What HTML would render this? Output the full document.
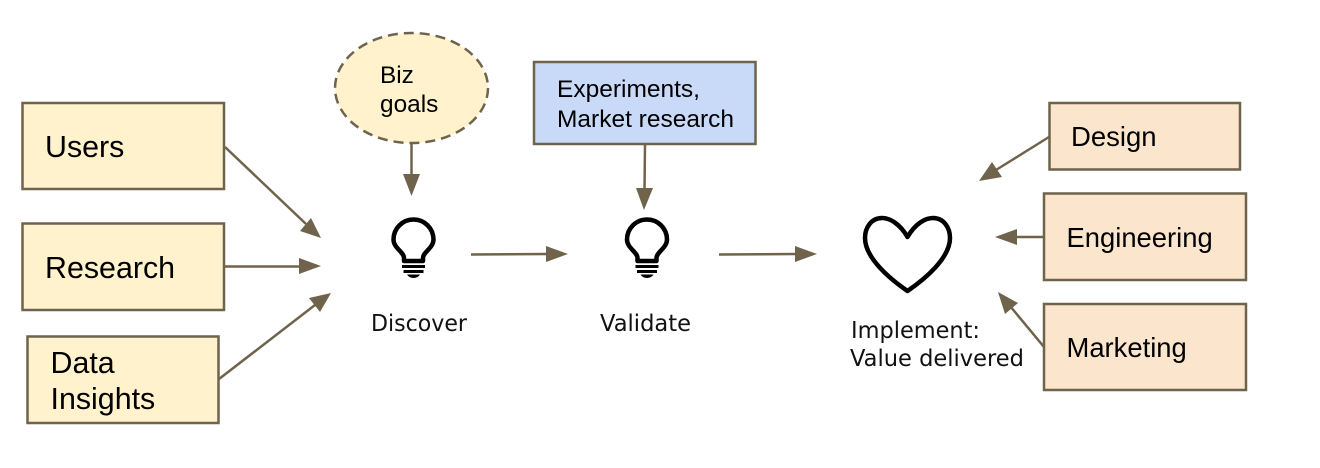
<!DOCTYPE html>
<html><head><meta charset="utf-8"><style>html,body{margin:0;padding:0;background:#fff}svg{display:block}
.a{font-family:"Liberation Sans",sans-serif;fill:#000}
.o{font-family:"DejaVu Sans",sans-serif;fill:#111;font-size:23px}
.r{stroke:#6f634c;stroke-width:2.5}
.l{stroke:#6f634c;stroke-width:2.5;fill:none}
.h{fill:#6f634c}
.i{fill:none;stroke:#000;stroke-width:4.5;stroke-linejoin:round}
</style></head><body>
<svg width="1320" height="468" viewBox="0 0 1320 468" xmlns="http://www.w3.org/2000/svg">
<rect class="r" x="22.5" y="103" width="201.5" height="86" fill="#fff2cc"/>
<rect class="r" x="22.5" y="223.5" width="201.5" height="86.5" fill="#fff2cc"/>
<rect class="r" x="27.5" y="336.5" width="191" height="86.5" fill="#fff2cc"/>
<text class="a" x="45" y="157" font-size="30.4">Users</text>
<text class="a" x="45" y="278" font-size="30.4">Research</text>
<text class="a" x="50.5" y="373" font-size="30.4">Data</text>
<text class="a" x="50.5" y="409" font-size="30.4">Insights</text>
<line class="l" x1="225" y1="147" x2="306" y2="224"/><polygon class="h" points="321,238 300,231 311,218"/>
<line class="l" x1="225" y1="266.5" x2="302" y2="266.5"/><polygon class="h" points="321,266 299,258 299,274"/>
<line class="l" x1="219" y1="379" x2="315" y2="305"/><polygon class="h" points="331,293 320,312 309,298"/>
<ellipse cx="411.5" cy="88" rx="76.5" ry="55" fill="#fff2cc" stroke="#6f634c" stroke-width="2.5" stroke-dasharray="10 6"/>
<text class="a" x="380" y="83" font-size="24.4">Biz</text>
<text class="a" x="380" y="112" font-size="24.4">goals</text>
<line class="l" x1="411.5" y1="144" x2="411.5" y2="176"/><polygon class="h" points="411.5,196 403,174 420,174"/>
<rect class="r" x="534" y="62" width="221.5" height="82" fill="#c9daf8"/>
<text class="a" x="557" y="97" font-size="24.5">Experiments,</text>
<text class="a" x="557" y="127" font-size="24.5">Market research</text>
<line class="l" x1="645" y1="145" x2="644.5" y2="190"/><polygon class="h" points="644,210 636,188 653,188"/>
<line class="l" x1="471" y1="254.5" x2="548" y2="254"/><polygon class="h" points="568,254 546,246 546,262"/>
<line class="l" x1="719" y1="254.5" x2="797" y2="254"/><polygon class="h" points="817,254 795,246 795,262"/>
<g><path class="i" d="M404 261 L404 258 C404 252 393.5 248 393.5 239.5 A20 20 0 1 1 433.5 239.5 C433.5 248 423 252 423 258 L423 261 Z"/><path d="M402 265h23v3h-23zM403.5 270h20v3h-20zM407 274.500h13q-2 3.500-6.500 3.500t-6.500-3.500z" fill="#000"/></g>
<g transform="translate(233.5 0)"><path class="i" d="M404 261 L404 258 C404 252 393.5 248 393.5 239.5 A20 20 0 1 1 433.5 239.5 C433.5 248 423 252 423 258 L423 261 Z"/><path d="M402 265h23v3h-23zM403.5 270h20v3h-20zM407 274.500h13q-2 3.500-6.500 3.500t-6.500-3.500z" fill="#000"/></g>
<path class="i" d="M907.5 237 C900 224 890 218 882 218 C871 218 865 228 865 238 C865 258 890 279 907.5 291 C925 279 950 258 950 238 C950 228 944 218 933 218 C925 218 915 224 907.5 237 Z"/>
<text class="o" x="371" y="331" textLength="96" lengthAdjust="spacingAndGlyphs">Discover</text>
<text class="o" x="600" y="331" textLength="91" lengthAdjust="spacingAndGlyphs">Validate</text>
<text class="o" x="851" y="338" textLength="129" lengthAdjust="spacingAndGlyphs">Implement:</text>
<text class="o" x="850" y="366" textLength="174" lengthAdjust="spacingAndGlyphs">Value delivered</text>
<rect class="r" x="1049.5" y="103" width="190.5" height="66.5" fill="#fce5cd"/>
<rect class="r" x="1044" y="193.5" width="202" height="86.5" fill="#fce5cd"/>
<rect class="r" x="1044" y="304" width="202" height="86" fill="#fce5cd"/>
<text class="a" x="1071" y="146" font-size="27.5">Design</text>
<text class="a" x="1066.5" y="247" font-size="27.4">Engineering</text>
<text class="a" x="1066.5" y="357" font-size="27.4">Marketing</text>
<line class="l" x1="1049" y1="137" x2="996" y2="170"/><polygon class="h" points="979,181 992,162 1002,177"/>
<line class="l" x1="1044" y1="237" x2="1014" y2="237"/><polygon class="h" points="995,237 1017,229 1017,245"/>
<line class="l" x1="1044" y1="347" x2="1010" y2="306"/><polygon class="h" points="998,292 1018,303 1005,314"/>
</svg>
</body></html>
